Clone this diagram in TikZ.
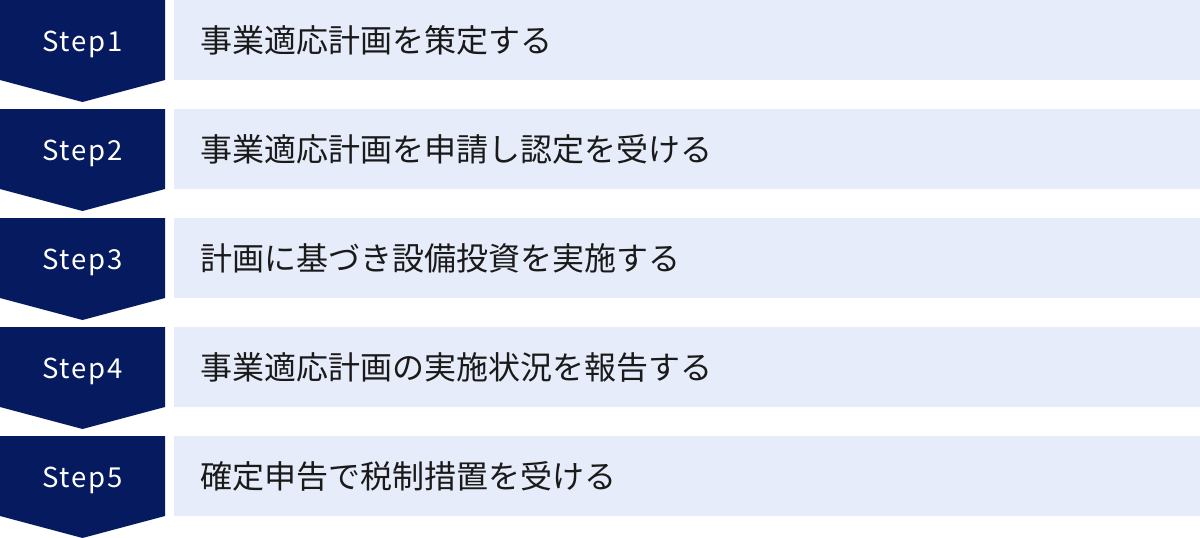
\documentclass[tikz,border=0pt]{standalone}
\usepackage{fontspec}
\setmainfont{Noto Sans CJK JP}
\definecolor{navy}{HTML}{061A60}
\definecolor{lightbg}{HTML}{E6ECF9}
\definecolor{txt}{HTML}{1A1A1A}
\begin{document}
\begin{tikzpicture}[x=1pt,y=-1pt,
  chev/.style={fill=navy,draw=none},
  panel/.style={fill=lightbg,draw=none,rectangle,inner sep=0pt,minimum width=1026pt,minimum height=80pt,anchor=north west},
  steplabel/.style={text=white,font=\fontsize{27.5}{32}\selectfont\addfontfeatures{LetterSpace=6},inner sep=0pt,anchor=base},
  desc/.style={text=txt,font=\fontsize{32}{36}\selectfont,inner sep=0pt,anchor=west}]
\useasboundingbox (0,0) rectangle (1200,538);
\foreach \i/\t in {1/事業適応計画を策定する,2/事業適応計画を申請し認定を受ける,3/計画に基づき設備投資を実施する,4/事業適応計画の実施状況を報告する,5/確定申告で税制措置を受ける}{
  \pgfmathsetmacro{\yy}{(\i-1)*109}
  \path[chev] (0,\yy) -- (165,\yy) -- (165,\yy+80) -- (82.5,\yy+102) -- (0,\yy+80) -- cycle;
  \node[steplabel] (s\i) at (82.5,\yy+51.5) {Step\i};
  \node[panel] (p\i) at (174,\yy) {};
  \node[desc] (d\i) at (200,\yy+40) {\t};
}
\end{tikzpicture}
\end{document}
